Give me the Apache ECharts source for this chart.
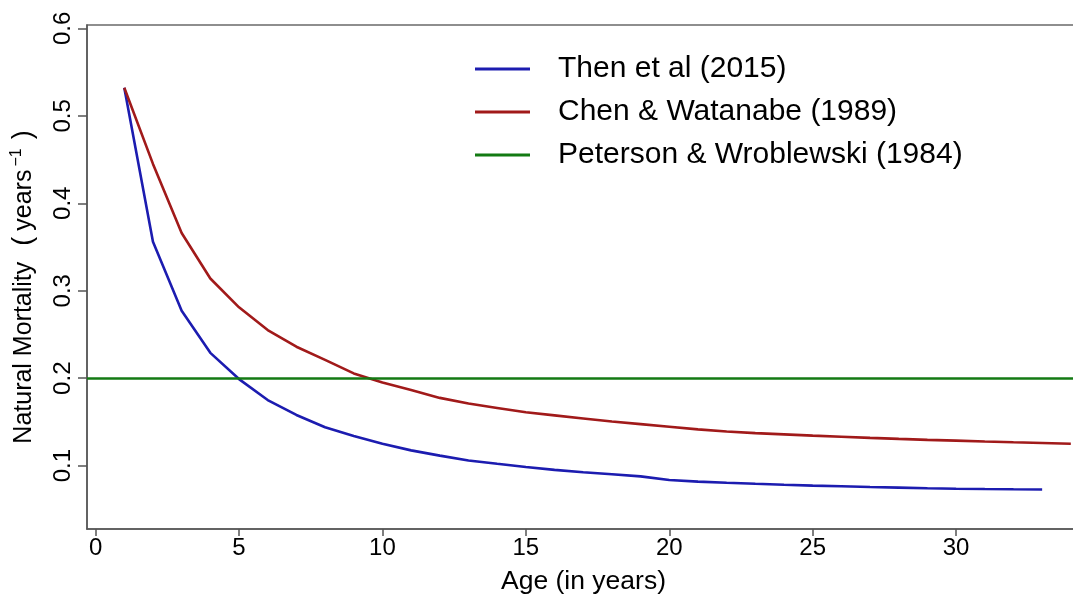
<!DOCTYPE html>
<html>
<head>
<meta charset="utf-8">
<title>Natural mortality by age</title>
<script src="https://cdn.jsdelivr.net/npm/echarts@6/dist/echarts.min.js"></script>
<style>
  html, body { margin: 0; padding: 0; background: #ffffff; }
  #chart { width: 1073px; height: 599px; }
</style>
</head>
<body>
<div id="chart"></div>
<script>
// Ages (years)
const ages = [1, 2, 3, 4, 5, 6, 7, 8, 9, 10, 11, 12, 13, 14, 15, 16, 17,
  18, 19, 20, 21, 22, 23, 24, 25, 26, 27, 28, 29, 30, 31, 32, 33, 34];

// Then et al (2015): age-specific natural mortality, ages 1-33
const thenM = [0.532, 0.356, 0.277, 0.229, 0.199, 0.175, 0.158, 0.144, 0.134,
  0.125, 0.1175, 0.1115, 0.106, 0.1022, 0.0985, 0.0952, 0.0925, 0.0902, 0.0878,
  0.0836, 0.0818, 0.0805, 0.0793, 0.0782, 0.0772, 0.0764, 0.0756, 0.0749,
  0.0742, 0.0737, 0.0733, 0.073, 0.0728];

// Chen & Watanabe (1989): age-specific natural mortality, ages 1-34
const chenM = [0.532, 0.445, 0.366, 0.314, 0.281, 0.255, 0.236, 0.221, 0.2055,
  0.195, 0.1865, 0.1775, 0.171, 0.166, 0.161, 0.1575, 0.154, 0.1505, 0.1475,
  0.1445, 0.1415, 0.139, 0.1372, 0.1358, 0.1344, 0.1331, 0.1318, 0.1306,
  0.1295, 0.1286, 0.1276, 0.1267, 0.1259, 0.1251];

// Peterson & Wroblewski (1984): constant mortality
const petersonM = 0.2045;

// Axis ticks
const xTicks = [0, 5, 10, 15, 20, 25, 30];
const yTicks = [0.1, 0.2, 0.3, 0.4, 0.5, 0.6];

const seriesNames = ['Then et al (2015)', 'Chen & Watanabe (1989)', 'Peterson & Wroblewski (1984)'];
const seriesColors = ['#1c1cb0', '#a11a1a', '#137a13'];

const FONT = '"Liberation Sans", Arial, Helvetica, sans-serif';

function pairs(xs, ys) {
  return ys.map((v, i) => [xs[i], v]);
}

const chart = echarts.init(document.getElementById('chart'), null, { renderer: 'canvas' });

chart.setOption({
  animation: false,
  backgroundColor: '#ffffff',
  textStyle: { fontFamily: FONT, color: '#000' },
  grid: {
    left: 87, top: 25, width: 993, height: 504,
    containLabel: false,
    outerBoundsMode: 'none',
    show: true, borderColor: '#6a6a6a', borderWidth: 1.5,
    backgroundColor: 'transparent'
  },
  legend: {
    orient: 'vertical',
    left: 475, top: 54,
    padding: 0,
    icon: 'rect',
    itemWidth: 55, itemHeight: 3,
    itemGap: 13,
    selectedMode: false,
    data: seriesNames,
    textStyle: { fontFamily: FONT, fontSize: 30, color: '#000', padding: [0, 0, 0, 23] }
  },
  xAxis: {
    type: 'value',
    min: -0.3, max: 34.32,
    name: 'Age (in years)',
    nameLocation: 'middle',
    nameGap: 39,
    nameTextStyle: { fontFamily: FONT, fontSize: 26.5, color: '#000' },
    axisLine: { show: true, onZero: false, lineStyle: { color: '#555', width: 1.5 } },
    axisTick: { show: true, length: 7, inside: false, customValues: xTicks, lineStyle: { color: '#555', width: 1.5 } },
    axisLabel: { show: true, customValues: xTicks, margin: 7, fontSize: 24, color: '#000', fontFamily: FONT },
    splitLine: { show: false }
  },
  yAxis: {
    type: 'value',
    min: 0.0276, max: 0.6038,
    name: '{a|Natural Mortality}{p|(}{a|years}{s|−1}{q|)}',
    nameLocation: 'middle',
    nameRotate: 90,
    nameGap: 48,
    nameTextStyle: {
      fontFamily: FONT, color: '#000',
      padding: [0, 20, 0, 0],
      rich: {
        a: { fontFamily: FONT, fontSize: 25, color: '#000', lineHeight: 30 },
        p: { fontFamily: FONT, fontSize: 27, color: '#000', lineHeight: 30, padding: [0, 6, 0, 16] },
        q: { fontFamily: FONT, fontSize: 27, color: '#000', lineHeight: 30, padding: [0, 0, 0, 9] },
        s: { fontFamily: FONT, fontSize: 16, color: '#000', verticalAlign: 'top', lineHeight: 30, padding: [0, 0, 0, 3] }
      }
    },
    axisLine: { show: true, onZero: false, lineStyle: { color: '#555', width: 1.5 } },
    axisTick: { show: true, length: 9, inside: false, customValues: yTicks, lineStyle: { color: '#555', width: 1.5 } },
    axisLabel: {
      show: true, customValues: yTicks, rotate: 90, margin: 12,
      fontSize: 24, color: '#000', fontFamily: FONT,
      formatter: v => v.toFixed(1)
    },
    splitLine: { show: false }
  },
  series: [
    {
      name: seriesNames[0], type: 'line',
      data: pairs(ages, thenM),
      showSymbol: false, symbol: 'none',
      color: seriesColors[0],
      lineStyle: { color: seriesColors[0], width: 2.6 }
    },
    {
      name: seriesNames[1], type: 'line',
      data: pairs(ages, chenM),
      showSymbol: false, symbol: 'none',
      color: seriesColors[1],
      lineStyle: { color: seriesColors[1], width: 2.6 }
    },
    {
      name: seriesNames[2], type: 'line',
      data: [],
      symbol: 'none',
      color: seriesColors[2],
      lineStyle: { color: seriesColors[2], width: 2.6 },
      markLine: {
        silent: true, symbol: 'none',
        label: { show: false },
        lineStyle: { color: seriesColors[2], width: 2.6, type: 'solid' },
        data: [{ yAxis: petersonM }]
      }
    }
  ]
});
</script>
</body>
</html>
